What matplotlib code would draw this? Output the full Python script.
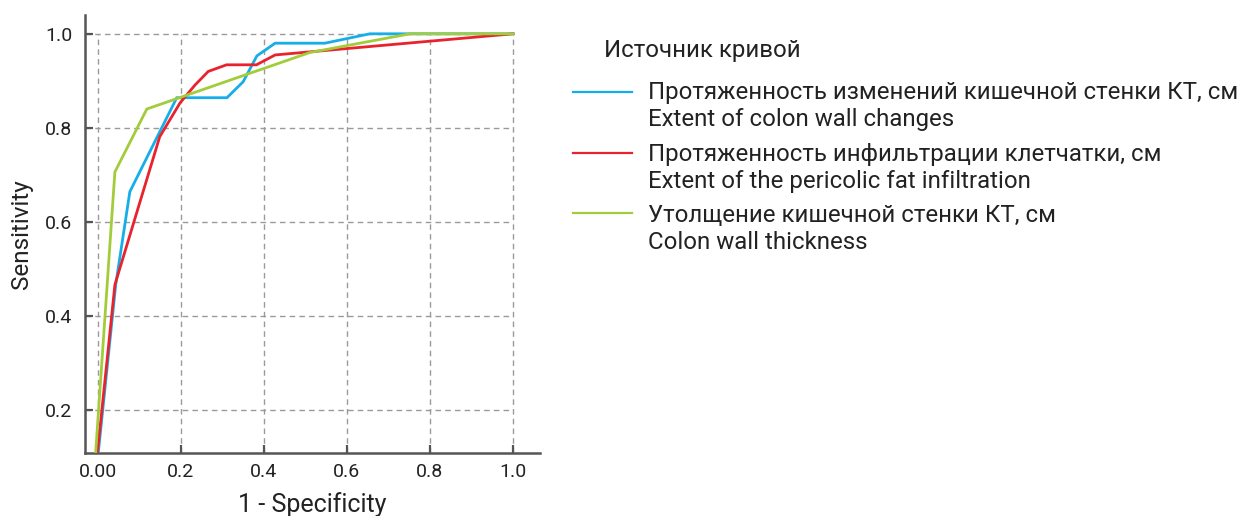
import matplotlib
matplotlib.use("Agg")
import matplotlib.pyplot as plt
from matplotlib.lines import Line2D

plt.rcParams['font.family'] = ['Roboto', 'DejaVu Sans']

# ---- data ----
blue_x = [0.0, 0.043, 0.077, 0.19, 0.311, 0.35, 0.383, 0.427, 0.547, 0.655, 1.0]
blue_y = [0.10, 0.466, 0.664, 0.864, 0.864, 0.898, 0.953, 0.98, 0.98, 1.0, 1.0]

red_x = [-0.002, 0.041, 0.149, 0.198, 0.234, 0.266, 0.31, 0.382, 0.427, 1.0]
red_y = [0.10, 0.466, 0.781, 0.853, 0.891, 0.92, 0.934, 0.934, 0.955, 1.0]

green_x = [-0.006, 0.041, 0.118, 0.51, 0.752, 1.0]
green_y = [0.10, 0.706, 0.84, 0.96, 1.0, 1.0]

x_ticks = [0.0, 0.2, 0.4, 0.6, 0.8, 1.0]
x_ticklabels = ["0.00", "0.2", "0.4", "0.6", "0.8", "1.0"]
y_ticks = [0.2, 0.4, 0.6, 0.8, 1.0]
y_ticklabels = ["0.2", "0.4", "0.6", "0.8", "1.0"]

legend_title = "Источник кривой"
legend_labels = [
    "Протяженность изменений кишечной стенки КТ, см\nExtent of colon wall changes",
    "Протяженность инфильтрации клетчатки, см\nExtent of the pericolic fat infiltration",
    "Утолщение кишечной стенки КТ, см\nColon wall thickness",
]
colors = ["#16AEE8", "#E8232D", "#A3CC3A"]

# ---- figure ----
W, H = 1241, 516
fig = plt.figure(figsize=(W/100, H/100), dpi=100)
ax = fig.add_axes([85/W, 1-453/H, (540-85)/W, (453-15)/H])

xmin, xmax = -0.031, 1.065
ymin, ymax = 0.108, 1.04
ax.set_xlim(xmin, xmax)
ax.set_ylim(ymin, ymax)

# grid (bounded box)
for xv in x_ticks:
    ax.plot([xv, xv], [ymin, 1.0], ls=(0, (4, 3)), color="#9a9a9a", lw=1.0, zorder=1)
for yv in y_ticks:
    ax.plot([xmin, 1.0], [yv, yv], ls=(0, (4, 3)), color="#9a9a9a", lw=1.0, zorder=1)

for xs, ys, c in [(blue_x, blue_y, colors[0]), (red_x, red_y, colors[1]), (green_x, green_y, colors[2])]:
    ax.plot(xs, ys, color=c, lw=2.0, zorder=3, solid_joinstyle="miter")

ax.set_xticks(x_ticks)
ax.set_xticklabels(x_ticklabels)
ax.set_yticks(y_ticks)
ax.set_yticklabels(y_ticklabels)
ax.tick_params(direction="in", length=6, width=1.6, color="#555555",
               labelsize=14, labelcolor="#222222")
ax.tick_params(axis="x", pad=7)
ax.tick_params(axis="y", pad=9)

for s in ["top", "right"]:
    ax.spines[s].set_visible(False)
for s in ["left", "bottom"]:
    ax.spines[s].set_color("#555555")
    ax.spines[s].set_linewidth(1.8)

ax.set_xlabel("1 - Specificity", fontsize=18, color="#222222", labelpad=8)
ax.set_ylabel("Sensitivity", fontsize=17.5, color="#222222", labelpad=9)

# ---- legend (manual) ----
fig.text(604/W, 1-50/H, legend_title, fontsize=17.3, color="#222222", va="center", ha="left")
line_ys = [92, 153, 213]
text_centers = [106, 168, 229]
for ly, tc, lab, c in zip(line_ys, text_centers, legend_labels, colors):
    fig.add_artist(Line2D([573/W, 632/W], [1-ly/H, 1-ly/H], color=c, lw=1.6,
                          transform=fig.transFigure))
    fig.text(648/W, 1-tc/H, lab, fontsize=17.3, color="#222222", va="center", ha="left",
             linespacing=1.2)

fig.savefig("out.png", dpi=100)
